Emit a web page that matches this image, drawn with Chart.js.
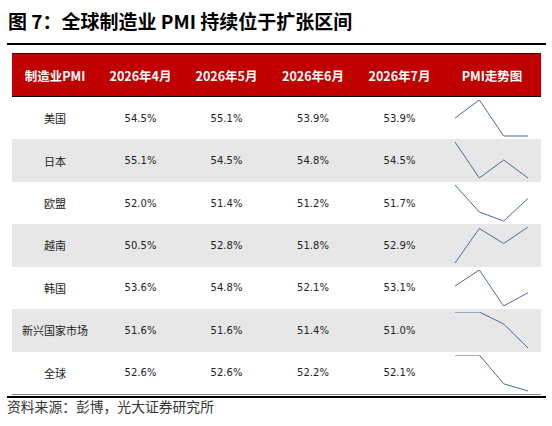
<!DOCTYPE html>
<html lang="zh">
<head>
<meta charset="UTF-8">
<title>全球制造业 PMI 持续位于扩张区间</title>
<script src="https://cdn.jsdelivr.net/npm/chart.js@4.4.1/dist/chart.umd.min.js"></script>
<style>
    body {
        margin: 0;
        width: 552px;
        height: 426px;
        background: #fff;
        position: relative;
        overflow: hidden;
        font-family: "Noto Sans CJK SC", sans-serif;
    }
    .abs { position: absolute; }
    #title { left: 8px; top: 7px; font-size: 19px; font-weight: bold; color: #000; line-height: 28px; white-space: nowrap; }
    #topRule { left: 7px; top: 43px; width: 539px; height: 2px; background: #000; }
    #header { left: 12px; top: 53px; width: 529px; height: 42px; background: #c00000; border-top: 1px solid #500; border-bottom: 1px solid #000; }
    .cell { position: absolute; top: 0; height: 100%; display: flex; align-items: center; justify-content: center; white-space: nowrap; }
    .hcell { color: #fff; font-weight: bold; font-size: 12.5px; }
    .row { left: 12px; width: 529px; }
    .name { font-size: 11px; color: #222; }
    .num { font-family: "DejaVu Sans", sans-serif; font-size: 10px; color: #222; }
    #botThin { left: 12px; top: 394px; width: 529px; height: 1px; background: #888; }
    #botRule { left: 7px; top: 396px; width: 539px; height: 2px; background: #000; }
    #source { left: 7px; top: 396px; font-size: 13.8px; color: #333; line-height: 20px; white-space: nowrap; }
    canvas.spark { position: absolute; }
</style>
</head>
<body>
<div id="title" class="abs">图 7：全球制造业 PMI 持续位于扩张区间</div>
<div id="topRule" class="abs"></div>
<div id="header" class="abs"></div>
<div id="botThin" class="abs"></div>
<div id="botRule" class="abs"></div>
<div id="source" class="abs">资料来源：彭博，光大证券研究所</div>

<script>
    // 表头与月份
    const headers = ['制造业PMI', '2026年4月', '2026年5月', '2026年6月', '2026年7月', 'PMI走势图'];
    const months = ['2026年4月', '2026年5月', '2026年6月', '2026年7月'];
    const regions = ['美国', '日本', '欧盟', '越南', '韩国', '新兴国家市场', '全球'];

    // 各经济体制造业PMI（%）
    const usa = [54.5, 55.1, 53.9, 53.9];
    const japan = [55.1, 54.5, 54.8, 54.5];
    const eu = [52.0, 51.4, 51.2, 51.7];
    const vietnam = [50.5, 52.8, 51.8, 52.9];
    const korea = [53.6, 54.8, 52.1, 53.1];
    const emerging = [51.6, 51.6, 51.4, 51.0];
    const world = [52.6, 52.6, 52.2, 52.1];

    const series = [usa, japan, eu, vietnam, korea, emerging, world];

    // 列宽
    const colW = [86, 85, 87, 86, 87, 98];
    const colX = [];
    let acc = 0;
    colW.forEach(w => { colX.push(acc); acc += w; });

    // 表头
    const header = document.getElementById('header');
    headers.forEach((h, i) => {
        const c = document.createElement('div');
        c.className = 'cell hcell';
        c.style.left = colX[i] + 'px';
        c.style.width = colW[i] + 'px';
        c.textContent = h;
        header.appendChild(c);
    });

    // 表体
    const rowTop = 97;
    const rowH = 42.43;
    regions.forEach((name, r) => {
        const row = document.createElement('div');
        row.className = 'abs row';
        row.style.top = (rowTop + r * rowH) + 'px';
        row.style.height = rowH + 'px';
        row.style.background = r % 2 === 1 ? '#e7e7e7' : '#fff';
        document.body.appendChild(row);

        const n = document.createElement('div');
        n.className = 'cell name';
        n.style.left = colX[0] + 'px';
        n.style.width = colW[0] + 'px';
        n.textContent = name;
        row.appendChild(n);

        series[r].forEach((v, j) => {
            const c = document.createElement('div');
            c.className = 'cell num';
            c.style.left = colX[j + 1] + 'px';
            c.style.width = colW[j + 1] + 'px';
            c.textContent = v.toFixed(1) + '%';
            row.appendChild(c);
        });

        // 走势图
        const cv = document.createElement('canvas');
        cv.className = 'spark';
        cv.width = 75;
        cv.height = Math.round(rowH) - 4;
        cv.style.left = '442px';
        cv.style.top = '2px';
        row.appendChild(cv);

        const vals = series[r];
        new Chart(cv, {
            type: 'line',
            data: {
                labels: months,
                datasets: [{
                    data: vals,
                    borderColor: '#4a6a9c',
                    borderWidth: 1,
                    pointRadius: 0,
                    tension: 0,
                    fill: false,
                    clip: { left: 1, right: 1, top: 0, bottom: 1 }
                }]
            },
            options: {
                responsive: false,
                animation: false,
                events: [],
                layout: { padding: 1 },
                plugins: {
                    legend: { display: false },
                    tooltip: { enabled: false }
                },
                scales: {
                    x: { display: false, offset: false },
                    y: { display: false, min: Math.min(...vals), max: Math.max(...vals) }
                }
            }
        });
    });
</script>
</body>
</html>
